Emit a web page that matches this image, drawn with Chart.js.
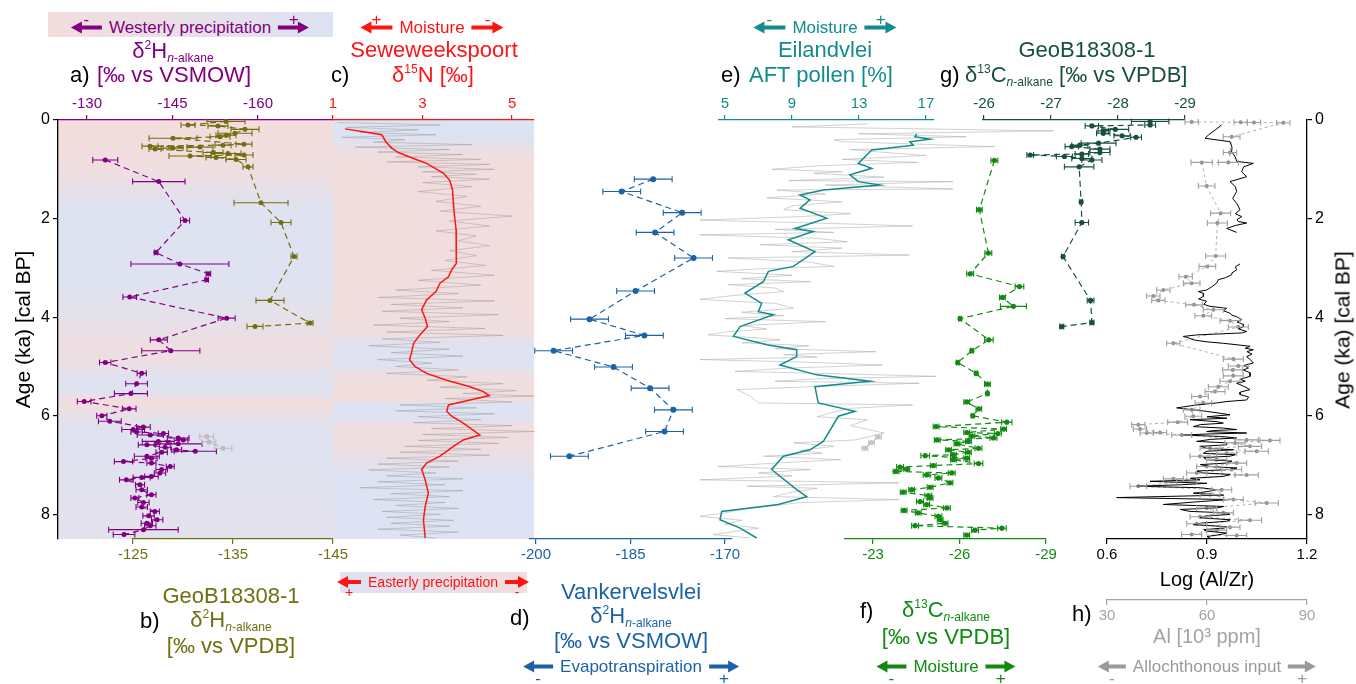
<!DOCTYPE html>
<html>
<head>
<meta charset="utf-8">
<script src="https://cdn.jsdelivr.net/npm/chart.js@4"></script>
<style>
body{margin:0;background:#fff;width:1356px;height:684px;position:relative;overflow:hidden;font-family:"Liberation Sans",Arial,sans-serif}
canvas{position:absolute;left:0;top:0}
.t{position:absolute;white-space:nowrap;transform:translate(-50%,-50%);line-height:1}
.l{position:absolute;white-space:nowrap;transform:translateY(-50%);line-height:1}
sup{font-size:0.55em;vertical-align:0.75em;line-height:0}
sub{font-size:0.55em;vertical-align:-0.3em;line-height:0}
</style>
</head>
<body>
<script>
// ---- tick labels ----
const ageTicks = [0, 2, 4, 6, 8];
const aTicks = [-130, -145, -160];
const bTicks = [-125, -135, -145];
const cTicks = [1, 3, 5];
const dTicks = [-200, -185, -170];
const eTicks = [5, 9, 13, 17];
const fTicks = [-23, -26, -29];
const gTicks = [-26, -27, -28, -29];
const hTicks = [0.6, 0.9, 1.2];
const alTicks = [30, 60, 90];

// ---- a) westerly dD (purple) ----
const aAge = [0.81,1.25,2.04,2.69,2.92,3.12,3.24,3.59,4.02,4.46,
  4.68,4.92,5.14,5.35,5.55,5.71,5.86,6.00,6.11,6.23,
  6.28,6.33,6.36,6.39,6.45,6.49,6.52,6.57,6.59,6.64,
  6.69,6.72,6.74,6.82,6.86,6.93,6.96,7.03,7.09,7.16,
  7.23,7.25,7.30,7.40,7.50,7.60,7.67,7.76,7.85,7.94,
  8.03,8.11,8.18,8.23,8.31,8.41];
const aVal = [-133.2,-142.6,-147.2,-142.1,-146.3,-151.3,-151.0,-137.5,-154.5,-142.6,
  -144.7,-133.2,-139.6,-138.7,-137.7,-129.5,-137.4,-132.6,-134.0,-139.9,
  -138.1,-138.7,-143.4,-141.1,-146.0,-146.9,-142.5,-146.0,-140.5,-143.7,
  -145.7,-149.0,-143.1,-140.5,-141.3,-136.4,-141.3,-144.6,-143.1,-142.8,
  -141.3,-139.6,-136.9,-139.3,-139.6,-141.3,-138.4,-139.9,-139.6,-141.9,
  -140.8,-142.3,-140.5,-141.1,-139.9,-136.5];
const aErr = [2.2,4.6,0.8,0.3,8.6,0.4,0.3,1.2,1.5,1.5,
  5.1,1.0,0.8,1.9,2.9,1.2,1.2,0.9,2.0,1.2,
  2.0,1.0,0.9,2.3,1.9,0.8,2.8,4.2,1.5,1.0,
  0.9,3.7,1.0,2.2,1.0,1.6,0.8,0.7,1.0,1.0,
  1.2,1.5,1.2,0.8,1.0,0.8,0.7,1.0,1.0,0.8,
  1.0,1.0,1.0,1.0,6.1,1.9];
const aGrayAge = [6.42, 6.53, 6.66];
const aGrayVal = [-151.0, -151.4, -153.9];
const aGrayErr = [1.2, 1.2, 1.5];

// ---- b) GeoB18308-1 dD (olive) ----
const bAge = [0.03,0.10,0.12,0.19,0.27,0.31,0.34,0.37,0.49,0.51,
  0.53,0.55,0.57,0.59,0.66,0.68,0.71,0.73,0.76,0.80,
  0.95,1.68,2.08,2.77,3.66,4.12,4.19];
const bVal = [-134.3,-130.5,-133.5,-136.2,-135.2,-134.3,-133.7,-129.0,-136.1,-134.0,
  -126.7,-131.7,-129.0,-127.2,-133.0,-134.5,-136.1,-130.7,-133.3,-135.3,
  -136.5,-137.8,-139.8,-141.1,-138.7,-142.7,-137.2];
const bErr = [1.9,0.7,1.0,1.4,1.7,1.0,1.0,2.4,0.8,0.8,
  0.8,1.3,1.0,0.6,1.0,1.3,0.9,2.1,1.0,1.0,
  0.5,2.7,1.0,0.3,1.4,0.3,0.8];

// ---- c) Seweweekspoort d15N ----
const cRawAge = [0.05,0.10,0.15,0.20,0.25,0.30,0.35,0.40,0.45,0.50,
  0.55,0.60,0.65,0.70,0.75,0.80,0.85,0.90,0.95,1.00,
  1.05,1.10,1.15,1.20,1.27,1.35,1.45,1.55,1.65,1.75,
  1.85,1.95,2.05,2.15,2.25,2.35,2.45,2.55,2.65,2.75,
  2.85,2.95,3.05,3.15,3.25,3.35,3.45,3.52,3.60,3.67,
  3.74,3.81,3.88,3.95,4.02,4.09,4.16,4.23,4.30,4.37,
  4.44,4.51,4.58,4.65,4.72,4.79,4.86,4.93,5.00,5.07,
  5.14,5.21,5.28,5.35,5.42,5.49,5.55,5.60,5.65,5.72,
  5.78,5.84,5.90,5.96,6.02,6.08,6.14,6.20,6.26,6.32,
  6.38,6.44,6.50,6.56,6.62,6.68,6.74,6.80,6.86,6.92,
  6.98,7.04,7.10,7.16,7.22,7.28,7.34,7.40,7.46,7.52,
  7.58,7.64,7.70,7.76,7.82,7.88,7.94,8.00,8.06,8.12,
  8.18,8.24,8.30,8.36,8.42,8.48];
const cRawVal = [1.1,3.4,1.3,2.9,1.6,3.3,1.2,2.6,1.9,4.1,
  1.5,3.6,2.0,3.9,2.4,4.3,2.2,4.5,2.9,4.6,
  3.0,4.2,3.2,4.5,3.0,4.1,2.9,4.0,3.3,4.3,
  3.4,5.0,3.6,4.5,3.3,4.2,3.8,4.5,3.6,4.2,
  3.5,4.4,3.2,4.6,2.9,4.3,2.4,3.8,2.0,4.6,
  2.3,3.9,2.1,4.7,2.5,3.6,1.9,4.4,2.2,4.8,
  2.1,3.4,1.8,3.6,2.3,3.9,2.0,3.2,2.4,3.8,
  2.2,4.0,3.1,4.8,3.4,5.1,3.9,5.5,3.5,5.0,
  2.5,4.2,2.4,4.6,2.9,4.3,2.8,5.0,3.2,5.5,
  3.0,4.9,2.9,4.7,2.6,4.3,2.5,4.5,2.2,3.8,
  2.0,3.6,1.8,3.3,2.2,3.9,2.0,3.5,1.6,3.9,
  2.3,3.6,1.9,3.5,2.4,3.8,2.1,3.4,2.2,3.7,
  2.3,3.6,2.0,3.8,2.5,3.3];
const cSmoothAge = [0.18,0.24,0.30,0.44,0.57,0.66,0.78,0.88,1.00,1.08,
  1.23,1.42,1.82,2.23,2.64,2.91,3.04,3.18,3.31,3.48,
  3.65,3.85,4.02,4.19,4.36,4.53,4.70,4.86,5.00,5.14,
  5.28,5.41,5.51,5.59,5.68,5.78,5.91,6.01,6.15,6.39,
  6.49,6.62,6.82,6.96,7.09,7.30,7.57,7.84,8.11,8.48];
const cSmoothVal = [1.27,1.68,2.09,2.18,2.31,2.46,2.80,3.09,3.32,3.47,
  3.61,3.67,3.70,3.75,3.76,3.75,3.65,3.58,3.39,3.30,
  3.09,2.98,3.06,3.11,2.94,2.80,2.76,2.71,2.83,3.09,
  3.54,4.06,4.36,4.49,4.06,3.58,3.54,3.65,3.91,4.28,
  3.91,3.69,3.39,3.09,2.98,3.06,3.13,3.06,3.02,3.06];

// ---- d) Vankervelsvlei dD (blue) ----
const dAge = [1.20,1.45,1.88,2.28,2.80,3.47,4.04,4.37,4.68,5.01,5.44,5.88,6.32,6.82];
const dVal = [-181.4,-186.4,-176.8,-181.1,-175.0,-184.2,-191.5,-182.8,-197.2,-187.7,-181.9,-178.2,-179.6,-194.7];
const dErr = [3.0,3.0,3.0,3.0,3.0,3.0,3.0,3.0,3.0,3.0,3.0,3.0,3.0,3.0];

// ---- e) Eilandvlei AFT pollen ----
const eRawAge = [0.08,0.14,0.22,0.28,0.34,0.40,0.44,0.50,0.54,0.60,
  0.64,0.72,0.80,0.86,0.93,1.00,1.05,1.08,1.16,1.23,
  1.25,1.32,1.40,1.42,1.50,1.58,1.66,1.74,1.82,1.90,
  1.96,2.03,2.10,2.15,2.22,2.28,2.33,2.40,2.47,2.53,
  2.60,2.67,2.74,2.80,2.88,2.97,3.02,3.07,3.15,3.22,
  3.28,3.34,3.41,3.48,3.56,3.64,3.72,3.82,3.90,3.97,
  4.03,4.09,4.17,4.24,4.30,4.36,4.41,4.46,4.52,4.58,
  4.64,4.70,4.76,4.81,4.86,4.91,4.97,5.03,5.10,5.15,
  5.20,5.25,5.30,5.34,5.40,5.47,5.60,5.74,5.78,5.85,
  5.95,6.02,6.08,6.20,6.35,6.49,6.55,6.62,6.70,6.76,
  6.82,6.89,6.96,7.03,7.09,7.16,7.22,7.30,7.36,7.43,
  7.47,7.55,7.64,7.70,7.76,7.82,7.90,7.97,8.04,8.12,
  8.20,8.28,8.35,8.41,8.48];
const eRawVal = [13.5,9.0,24.6,13.0,19.4,11.5,12.0,17.5,21.1,12.5,
  13.9,17.0,12.0,16.5,10.5,7.8,12.0,10.3,14.5,8.8,
  18.6,11.0,18.6,8.1,11.0,7.5,12.0,9.0,8.5,12.5,
  9.5,3.5,11.5,16.2,8.0,11.5,3.5,10.5,12.3,7.1,
  12.0,9.0,16.0,5.2,10.0,11.5,7.0,4.5,9.0,6.0,
  10.1,5.2,8.0,8.5,5.5,3.5,8.0,9.1,6.0,8.5,
  5.0,11.0,6.0,7.5,5.0,4.0,6.5,8.3,6.0,10.0,
  8.0,14.0,8.5,10.5,3.5,9.5,14.4,9.0,5.6,12.0,
  17.6,10.5,8.0,16.6,11.0,5.7,6.5,7.0,16.2,12.5,
  11.2,10.5,13.5,12.5,14.5,12.8,9.1,11.5,9.5,10.8,
  7.3,11.9,8.0,4.6,10.1,7.0,9.0,3.5,15.4,6.3,
  10.5,9.0,7.9,15.4,9.5,8.0,6.0,5.0,3.5,6.0,
  5.0,7.0,5.5,4.3,6.5];
const eSmoothAge = [0.28,0.34,0.39,0.44,0.51,0.61,0.88,0.98,1.11,1.25,
  1.32,1.42,1.52,1.62,1.79,1.99,2.20,2.26,2.43,2.67,
  2.97,3.07,3.28,3.51,3.72,3.89,3.95,4.19,4.39,4.56,
  4.66,4.80,4.97,5.17,5.30,5.41,5.74,5.91,6.01,6.52,
  6.69,6.82,7.09,7.50,7.64,7.80,7.94,8.11,8.28,8.48];
const eSmoothVal = [16.44,16.34,17.24,16.04,16.24,13.76,12.96,13.76,12.46,12.96,
  14.25,10.87,9.48,10.07,9.48,11.07,9.18,10.27,8.78,10.37,
  9.08,7.59,7.29,6.19,7.19,6.99,7.89,5.90,5.50,7.49,
  9.28,9.28,8.28,10.47,13.66,10.37,10.57,12.76,11.77,10.87,
  10.07,8.48,7.78,9.28,9.88,8.18,4.80,4.70,5.90,6.89];

// ---- f) dC13 (green) ----
const fAge = [0.82,1.82,2.70,3.12,3.38,3.60,3.78,4.03,4.46,4.68,
  4.92,5.14,5.36,5.55,5.72,5.86,6.00,6.13,6.22,6.27,
  6.34,6.36,6.41,6.45,6.49,6.52,6.57,6.66,6.69,6.74,
  6.79,6.81,6.86,6.89,6.97,7.01,7.04,7.08,7.13,7.16,
  7.20,7.26,7.36,7.45,7.50,7.55,7.62,7.67,7.74,7.80,
  7.87,7.92,7.97,8.04,8.11,8.18,8.23,8.28,8.32,8.42];
const fVal = [-27.21,-26.69,-27.00,-26.37,-28.08,-27.49,-27.87,-26.02,-27.02,-26.43,
  -25.94,-26.58,-26.97,-26.97,-26.25,-26.67,-26.46,-27.64,-25.19,-27.53,
  -26.25,-27.33,-26.43,-27.18,-25.23,-26.31,-25.91,-26.66,-25.62,-26.31,
  -25.79,-24.81,-26.25,-25.79,-26.66,-25.09,-23.94,-24.17,-23.80,-25.73,
  -24.86,-25.27,-25.67,-24.98,-24.34,-24.05,-24.92,-24.98,-24.63,-24.86,
  -25.56,-24.08,-24.57,-25.27,-25.33,-25.50,-24.46,-27.47,-26.54,-26.25];
const fErr = [0.12,0.10,0.12,0.12,0.15,0.10,0.45,0.05,0.15,0.05,
  0.05,0.05,0.10,0.05,0.10,0.10,0.05,0.18,0.10,0.10,
  0.10,0.12,0.10,0.12,0.10,0.10,0.10,0.12,0.10,0.10,
  0.10,0.15,0.10,0.10,0.15,0.10,0.12,0.10,0.10,0.12,
  0.12,0.12,0.10,0.10,0.10,0.10,0.12,0.10,0.12,0.10,
  0.12,0.10,0.10,0.12,0.10,0.10,0.12,0.15,0.12,0.10];
const fGrayAge = [6.43, 6.54, 6.66];
const fGrayVal = [-23.19, -22.95, -22.72];
const fGrayErr = [0.1, 0.1, 0.1];

// ---- g) GeoB18308-1 dC13 (dark green) ----
const gAge = [0.03,0.10,0.12,0.19,0.22,0.27,0.32,0.35,0.47,0.51,
  0.54,0.59,0.66,0.69,0.71,0.74,0.78,0.81,0.95,1.66,
  2.08,2.77,3.66,4.11,4.19];
const gVal = [-28.48,-28.48,-27.61,-27.96,-27.78,-27.78,-28.06,-28.27,-27.71,-27.43,
  -27.31,-27.73,-27.73,-27.46,-26.69,-27.20,-27.46,-27.61,-27.42,-27.45,
  -27.46,-27.18,-27.59,-27.61,-27.16];
const gErr = [0.28,0.08,0.10,0.20,0.08,0.10,0.12,0.08,0.26,0.12,
  0.10,0.15,0.15,0.10,0.05,0.12,0.15,0.15,0.22,0.02,
  0.10,0.02,0.05,0.03,0.03];

// ---- h) Log(Al/Zr) and Al ----
const hAge1 = [0.10,0.20,0.30,0.37,0.44,0.55,0.64,0.75,0.84,0.88,
  0.95,1.05,1.15,1.25,1.35,1.45,1.59,1.70,1.82,1.90,
  1.96,2.02,2.06,2.09,2.14,2.20,2.28];
const hVal1 = [0.944,0.925,0.905,0.894,0.969,0.975,0.974,0.985,0.989,1.039,
  1.010,1.004,1.019,0.969,0.985,0.989,0.977,0.990,0.999,0.985,
  1.004,0.990,0.994,1.019,0.985,0.959,0.989];
const hAge2 = [2.92,2.98,3.04,3.10,3.14,3.20,3.24,3.31,3.38,3.45,
  3.48,3.52,3.58,3.63,3.68,3.74,3.78,3.82,3.87,3.92,
  3.96,3.99,4.05,4.10,4.15,4.19,4.24,4.29,4.32,4.36,
  4.39,4.42,4.46,4.50,4.53,4.56,4.59,4.63,4.66,4.70,
  4.75,4.80,4.86,4.93,4.98,5.03,5.07,5.13,5.20,5.26,
  5.30,5.34,5.40,5.47,5.52,5.57,5.62,5.68,5.71,5.74,
  5.78,5.84,5.88,5.91,5.95,5.98,6.02,6.05,6.08,6.12,
  6.15,6.18,6.22,6.25,6.28,6.30,6.32,6.35,6.37,6.39,
  6.42,6.45,6.48,6.52,6.55,6.59,6.62,6.66,6.69,6.72,
  6.76,6.79,6.82,6.85,6.89,6.92,6.96,6.99,7.03,7.06,
  7.09,7.12,7.16,7.19,7.23,7.27,7.30,7.33,7.37,7.40,
  7.43,7.46,7.50,7.54,7.57,7.61,7.66,7.70,7.74,7.80,
  7.84,7.87,7.90,7.94,7.97,8.00,8.04,8.07,8.11,8.14,
  8.18,8.21,8.25,8.28,8.31,8.34,8.38,8.41,8.45,8.48];
const hVal2 = [0.999,0.985,0.989,0.975,0.974,0.955,0.934,0.929,0.915,0.899,
  0.874,0.890,0.889,0.875,0.899,0.890,0.909,0.959,0.950,0.969,
  0.975,0.989,1.004,0.990,1.010,1.009,0.995,1.019,1.004,0.869,
  0.829,0.845,0.859,0.900,0.949,0.990,1.029,1.015,1.039,1.020,
  1.035,1.019,1.030,1.039,1.010,1.025,1.009,1.030,1.029,1.000,
  1.015,0.989,1.010,1.029,1.000,0.999,1.025,1.019,0.960,0.929,
  0.870,0.809,0.860,0.899,0.940,0.969,0.900,0.960,0.849,0.930,
  0.949,0.880,0.859,0.950,0.989,0.920,0.899,1.019,0.900,0.829,
  0.940,0.989,0.910,0.869,0.960,0.959,0.880,0.899,0.979,0.900,
  0.889,0.985,0.969,0.890,0.899,0.975,0.959,0.880,0.909,0.990,
  0.969,0.870,0.889,0.970,0.949,0.850,0.879,0.729,0.900,0.820,
  0.689,0.880,0.929,0.900,0.859,0.950,0.629,0.969,0.880,0.769,
  0.950,0.929,0.820,0.849,0.960,0.969,0.890,0.879,0.970,0.959,
  0.880,0.859,0.960,0.949,0.890,0.899,0.960,0.939,0.900,0.909];
const alAge = [0.04,0.045,0.05,0.055,0.34,0.66,0.86,0.86,1.34,1.89,
  2.09,2.76,2.97,3.18,3.31,3.45,3.57,3.66,3.75,3.85,
  3.97,4.07,4.20,4.53,4.85,4.99,5.07,5.19,5.30,5.41,
  5.51,5.61,5.74,5.88,6.01,6.13,6.18,6.27,6.34,6.35,
  6.39,6.49,6.50,6.55,6.62,6.66,6.72,6.76,6.82,6.89,
  6.96,7.03,7.09,7.16,7.20,7.28,7.33,7.43,7.50,7.60,
  7.70,7.77,7.87,7.97,8.05,8.12,8.19,8.26,8.32,8.41,
  8.43];
const alVal = [55.4,70.1,74.1,82.9,67.4,66.9,66.4,58.4,59.9,64.1,
  63.1,62.6,60.1,53.6,55.4,46.9,43.9,45.4,56.1,61.9,
  58.9,66.9,69.4,49.9,67.9,69.4,67.7,67.9,66.9,63.4,
  62.4,57.9,58.9,55.4,55.9,51.2,39.4,39.9,45.9,41.9,
  52.4,71.9,78.9,68.4,72.9,60.9,74.9,65.9,57.9,62.9,
  68.9,59.9,67.4,56.9,71.9,49.9,53.9,39.4,64.4,60.9,
  67.9,77.9,59.9,64.9,57.9,72.9,56.9,66.9,62.9,55.4,
  68.9];
const alErr = [2,2,2,2,2.5,2,3,3.2,2.5,3,
  3,3,2.5,2,2.5,2,2,2,2.5,3,
  2.5,3,3,2,3,3,3,3,3,3,
  3,2.5,2.5,2.5,2.5,3,2,2,2,2,
  3,3.5,3,3,3.5,3,3.5,3,3,3,
  3,3,3,3,3.5,3,3,2.5,3,3,
  3,3.5,3,3,3,3.5,3,3,3,3,
  3];

// ---- background shading (0 = reddish, 1 = bluish) ----
const aShadeAge = [0, 0.9, 1.8, 3.4, 4.0, 4.6, 4.9, 5.2, 5.5, 5.7, 5.8, 6.1, 6.5, 7.5, 8.5];
const aShadeMix = [0, 0.1, 0.85, 0.85, 0.6, 0.2, 0.25, 0.8, 0.85, 0.0, 0.1, 0.7, 0.9, 0.75, 0.7];
const cShadeAge = [0, 0.3, 0.8, 4.3, 4.6, 5.0, 5.2, 5.72, 5.75, 6.05, 6.2, 6.7, 7.2, 8.5];
const cShadeMix = [1, 1, 0.05, 0.1, 0.9, 0.9, 0.1, 0.1, 1, 0.95, 0.15, 0.2, 0.95, 0.95];

// ---------------------------------------------------------------
const FONT = '"Liberation Sans", Arial, sans-serif';
Chart.defaults.font.family = FONT;
const W = 1356, H = 684, TOP = 120, BOT = 539;

const pts = (ages, vals, errs) => ages.map((a, i) => ({ x: vals[i], y: a, e: errs ? errs[i] : 0 }));

function mix(t) {
  const p = [243, 221, 221], b = [220, 227, 243];
  return `rgb(${p.map((c, i) => Math.round(c + (b[i] - c) * t)).join(',')})`;
}

const shadePlugin = {
  id: 'shade',
  beforeDraw(chart, args, opts) {
    if (!opts || !opts.ages) return;
    const { ctx, chartArea: ca } = chart;
    const ys = chart.scales.y;
    const g = ctx.createLinearGradient(0, ca.top, 0, ca.bottom);
    opts.ages.forEach((a, i) => {
      const t = (ys.getPixelForValue(a) - ca.top) / (ca.bottom - ca.top);
      g.addColorStop(Math.min(1, Math.max(0, t)), mix(opts.mix[i]));
    });
    ctx.save();
    ctx.fillStyle = g;
    ctx.fillRect(ca.left, ca.top, ca.right - ca.left, ca.bottom - ca.top);
    ctx.restore();
  }
};

const errorBars = {
  id: 'errorBars',
  afterDatasetsDraw(chart) {
    const ctx = chart.ctx;
    chart.data.datasets.forEach((ds, i) => {
      if (!ds.errorBars) return;
      const meta = chart.getDatasetMeta(i);
      const xs = chart.scales[ds.xAxisID || 'x'];
      ctx.save();
      ctx.strokeStyle = ds.errColor || ds.borderColor;
      ctx.lineWidth = 1.1;
      ds.data.forEach((p, j) => {
        if (!p.e) return;
        const y = meta.data[j].y;
        const x1 = xs.getPixelForValue(p.x - p.e), x2 = xs.getPixelForValue(p.x + p.e);
        ctx.beginPath();
        ctx.moveTo(x1, y); ctx.lineTo(x2, y);
        ctx.moveTo(x1, y - 3); ctx.lineTo(x1, y + 3);
        ctx.moveTo(x2, y - 3); ctx.lineTo(x2, y + 3);
        ctx.stroke();
      });
      ctx.restore();
    });
  }
};

function xAxis(pos, min, max, rev, ticks, color, h, extra) {
  return Object.assign({
    type: 'linear', position: pos, min, max, reverse: rev,
    afterBuildTicks: s => { s.ticks = ticks.map(v => ({ value: v })); },
    afterFit: s => { s.height = h; },
    grid: { drawOnChartArea: false, drawTicks: true, tickLength: 5, color, lineWidth: 1.2 },
    border: { display: true, color, width: 1.3 },
    ticks: { color, font: { size: 15 }, padding: 2, maxRotation: 0, autoSkip: false, callback: v => String(v) }
  }, extra || {});
}
const hiddenY = { type: 'linear', min: 0, max: 8.5, reverse: true, display: false };
function ageAxis(pos, w) {
  return {
    type: 'linear', position: pos, min: 0, max: 8.5, reverse: true,
    afterBuildTicks: s => { s.ticks = ageTicks.map(v => ({ value: v })); },
    afterFit: s => { s.width = w; },
    grid: { drawOnChartArea: false, drawTicks: true, tickLength: 5, color: '#000', lineWidth: 1.2 },
    border: { display: true, color: '#000', width: 1.3 },
    ticks: { color: '#000', font: { size: 16 }, padding: 3, autoSkip: false, callback: v => String(v) },
    title: { display: pos === 'left', text: 'Age (ka) [cal BP]', color: '#000', font: { size: 21 }, padding: 0 }
  };
}

function panel(x0, x1, padTop, padBot, padL, padR, scales, datasets, shade) {
  const cv = document.createElement('canvas');
  cv.width = W; cv.height = H;
  cv.style.width = W + 'px'; cv.style.height = H + 'px';
  document.body.appendChild(cv);
  datasets.forEach(d => { d.xAxisID = d.xAxisID || 'x'; d.yAxisID = 'y'; });
  return new Chart(cv, {
    type: 'line',
    data: { datasets },
    options: {
      indexAxis: 'y', responsive: false, animation: false, devicePixelRatio: 1,
      layout: { padding: { left: x0 - padL, right: W - x1 - padR, top: padTop, bottom: padBot } },
      plugins: { legend: { display: false }, tooltip: { enabled: false }, shade: shade || {} },
      scales
    },
    plugins: [shadePlugin, errorBars]
  });
}

function marks(data, color, extra) {
  return Object.assign({
    data, borderColor: color, backgroundColor: color, borderWidth: 1.2, borderDash: [6, 4],
    pointRadius: 2.5, pointBorderWidth: 0, tension: 0, errorBars: true, clip: false
  }, extra || {});
}
function trace(data, color, width) {
  return { data, borderColor: color, borderWidth: width, pointRadius: 0, tension: 0, clip: false };
}

const PURPLE = '#800080', OLIVE = '#707012', RED = '#ff1414', BLUE = '#1c62a8',
  TEAL = '#148c8c', GREEN = '#128a12', DKGREEN = '#17503d', GRAYR = 'rgba(150,150,150,0.55)';

const TOPH = 30, BOTH = 30;
// a) top axis + left age axis
panel(58, 333, TOP - TOPH, H - BOT, 46, 0, {
  x: xAxis('top', -173.16, -124.91, true, aTicks, PURPLE, TOPH),
  y: ageAxis('left', 46)
}, [
  marks(pts(aAge, aVal, aErr), PURPLE),
  marks(pts(aGrayAge, aGrayVal, aGrayErr), '#bdbdbd')
], { ages: aShadeAge, mix: aShadeMix });
// c) Seweweekspoort
panel(333, 534, TOP - TOPH, H - BOT, 0, 0, {
  x: xAxis('top', 1, 5.49, false, cTicks, RED, TOPH), y: hiddenY
}, [
  trace(pts(cSmoothAge, cSmoothVal), RED, 1.5),
  trace(pts(cRawAge, cRawVal), GRAYR, 0.8)
], { ages: cShadeAge, mix: cShadeMix });
// b) olive bottom axis
panel(133, 333, TOP, H - BOT - BOTH, 0, 0, {
  x: xAxis('bottom', -145, -125, true, bTicks, OLIVE, BOTH), y: hiddenY
}, [marks(pts(bAge, bVal, bErr), OLIVE)]);
// d) Vankervelsvlei
panel(530, 732, TOP, H - BOT - BOTH, 0, 0, {
  x: xAxis('bottom', -200.95, -168.9, false, dTicks, BLUE, BOTH), y: hiddenY
}, [marks(pts(dAge, dVal, dErr), BLUE, { pointRadius: 3 })]);
// e) Eilandvlei
panel(719, 934, TOP - TOPH, H - BOT, 0, 0, {
  x: xAxis('top', 4.64, 17.48, false, eTicks, TEAL, TOPH), y: hiddenY
}, [
  trace(pts(eSmoothAge, eSmoothVal), TEAL, 1.5),
  trace(pts(eRawAge, eRawVal), 'rgba(170,170,170,0.6)', 0.9)
]);
// f) green d13C
panel(845, 1046, TOP, H - BOT - BOTH, 0, 0, {
  x: xAxis('bottom', -29, -22.03, true, fTicks, GREEN, BOTH), y: hiddenY
}, [
  marks(pts(fAge, fVal, fErr), GREEN, { pointRadius: 2.6 }),
  marks(pts(fGrayAge, fGrayVal, fGrayErr), '#c4c4c4')
]);
// g) GeoB d13C
panel(983, 1185, TOP - TOPH, H - BOT, 0, 0, {
  x: xAxis('top', -29, -25.985, true, gTicks, DKGREEN, TOPH), y: hiddenY
}, [marks(pts(gAge, gVal, gErr), DKGREEN, { pointRadius: 2.6 })]);
// h) Log(Al/Zr) + Al
panel(1107, 1307, TOP, H - BOT - 61 - 52, 0, 48, {
  x: xAxis('bottom', 0.6, 1.2, false, hTicks, '#000', 61, {
    weight: 1,
    title: { display: true, text: 'Log (Al/Zr)', color: '#000', font: { size: 20 }, padding: { top: 2, bottom: 8 } }
  }),
  xal: xAxis('bottom', 30, 90, false, alTicks, '#a3a3a3', 52, {
    weight: 2,
    title: { display: true, text: 'Al [10³ ppm]', color: '#a3a3a3', font: { size: 20 }, padding: { top: 2, bottom: 3 } }
  }),
  y: ageAxis('right', 48)
}, [
  trace(pts(hAge1, hVal1), '#000', 1),
  trace(pts(hAge2, hVal2), '#000', 1),
  marks(pts(alAge, alVal, alErr), '#8c8c8c', { xAxisID: 'xal', borderColor: '#b0b0b0', borderDash: [3, 3], borderWidth: 1, pointRadius: 2, errColor: '#a0a0a0' })
]);

// ---------------- text ----------------
function label(html, x, y, color, size, anchor) {
  const d = document.createElement('div');
  d.className = anchor === 'left' ? 'l' : 't';
  d.style.left = x + 'px'; d.style.top = y + 'px';
  d.style.color = color; d.style.fontSize = size + 'px';
  d.innerHTML = html;
  document.body.appendChild(d);
  return d;
}
function box(x, y, w, h, bg) {
  const d = document.createElement('div');
  d.style.cssText = `position:absolute;left:${x}px;top:${y}px;width:${w}px;height:${h}px;background:${bg}`;
  document.body.appendChild(d);
}
function arrow(dir, color, w, sign, pos, size) {
  const head = dir < 0
    ? `<i style="position:absolute;left:0;top:0;border-top:6px solid transparent;border-bottom:6px solid transparent;border-right:11px solid ${color}"></i>`
    : `<i style="position:absolute;right:0;top:0;border-top:6px solid transparent;border-bottom:6px solid transparent;border-left:11px solid ${color}"></i>`;
  const shaft = `<i style="position:absolute;top:4px;height:4px;background:${color};${dir < 0 ? 'left:10px;right:0' : 'left:0;right:10px'}"></i>`;
  const s = sign ? `<b style="position:absolute;left:50%;transform:translateX(-50%);${pos === 'top' ? 'bottom:6px' : 'top:9px'};font-weight:normal;font-size:${size}px;line-height:1">${sign}</b>` : '';
  return `<span style="position:relative;display:inline-block;width:${w}px;height:12px">${shaft}${head}${s}</span>`;
}
function arrowRow(text, cx, cy, color, size, w, ls, rs, pos) {
  const d = label(`${arrow(-1, color, w, ls, pos, size)}<span style="margin:0 7px">${text}</span>${arrow(1, color, w, rs, pos, size)}`, cx, cy, color, size);
  d.style.display = 'flex'; d.style.alignItems = 'center';
}
const dH = 'δ<sup>2</sup>H<sub><i>n</i>-alkane</sub>';
const dC = 'δ<sup>13</sup>C<sub><i>n</i>-alkane</sub>';

// top headers
box(48, 12, 285, 25, 'linear-gradient(to right,#f3dddd,#dce3f3)');
arrowRow('Westerly precipitation', 190, 27, PURPLE, 17, 31, '-', '+', 'top');
label(dH, 173, 51, PURPLE, 22);
label('a)', 70, 75, '#000', 22, 'left');
label('[‰ vs VSMOW]', 174, 75, PURPLE, 22);

arrowRow('Moisture', 432, 27, RED, 17, 32, '+', '-', 'top');
label('Seweweekspoort', 434, 50, RED, 22);
label('c)', 331, 75, '#000', 22, 'left');
label('δ<sup>15</sup>N [‰]', 433, 75, RED, 22);

arrowRow('Moisture', 825, 27, TEAL, 17, 32, '-', '+', 'top');
label('Eilandvlei', 825, 50, TEAL, 22);
label('e)', 721, 75, '#000', 22, 'left');
label('AFT pollen [%]', 749, 75, TEAL, 22, 'left');

label('GeoB18308-1', 1087, 50, DKGREEN, 22);
label('g)', 940, 75, '#000', 22, 'left');
label(dC + ' [‰ vs VPDB]', 965, 75, DKGREEN, 22, 'left');

// bottom headers
box(340, 572, 187, 21, 'linear-gradient(to right,#dce3f3,#f3dddd)');
arrowRow('Easterly precipitation', 433, 582, RED, 14, 24, '+', '-', 'bottom');

label('GeoB18308-1', 231, 596, OLIVE, 22);
label('b)', 140, 621, '#000', 22, 'left');
label(dH, 231, 620, OLIVE, 22);
label('[‰ vs VPDB]', 231, 646, OLIVE, 22);

label('Vankervelsvlei', 631, 592, BLUE, 22);
label('d)', 510, 618, '#000', 22, 'left');
label(dH, 631, 616, BLUE, 22);
label('[‰ vs VSMOW]', 631, 641, BLUE, 22);
arrowRow('Evapotranspiration', 631, 666, BLUE, 17, 30, '-', '+', 'bottom');

label('f)', 860, 611, '#000', 22, 'left');
label(dC, 946, 610, GREEN, 22);
label('[‰ vs VPDB]', 946, 637, GREEN, 22);
arrowRow('Moisture', 946, 666, GREEN, 17, 30, '-', '+', 'bottom');

label('h)', 1072, 614, '#000', 22, 'left');
arrowRow('Allochthonous input', 1207, 666, '#9a9a9a', 17, 28, '-', '+', 'bottom');

const rt = label('Age (ka) [cal BP]', 1342, 330, '#000', 21);
rt.style.transform = 'translate(-50%,-50%) rotate(-90deg)';
</script>
</body>
</html>
